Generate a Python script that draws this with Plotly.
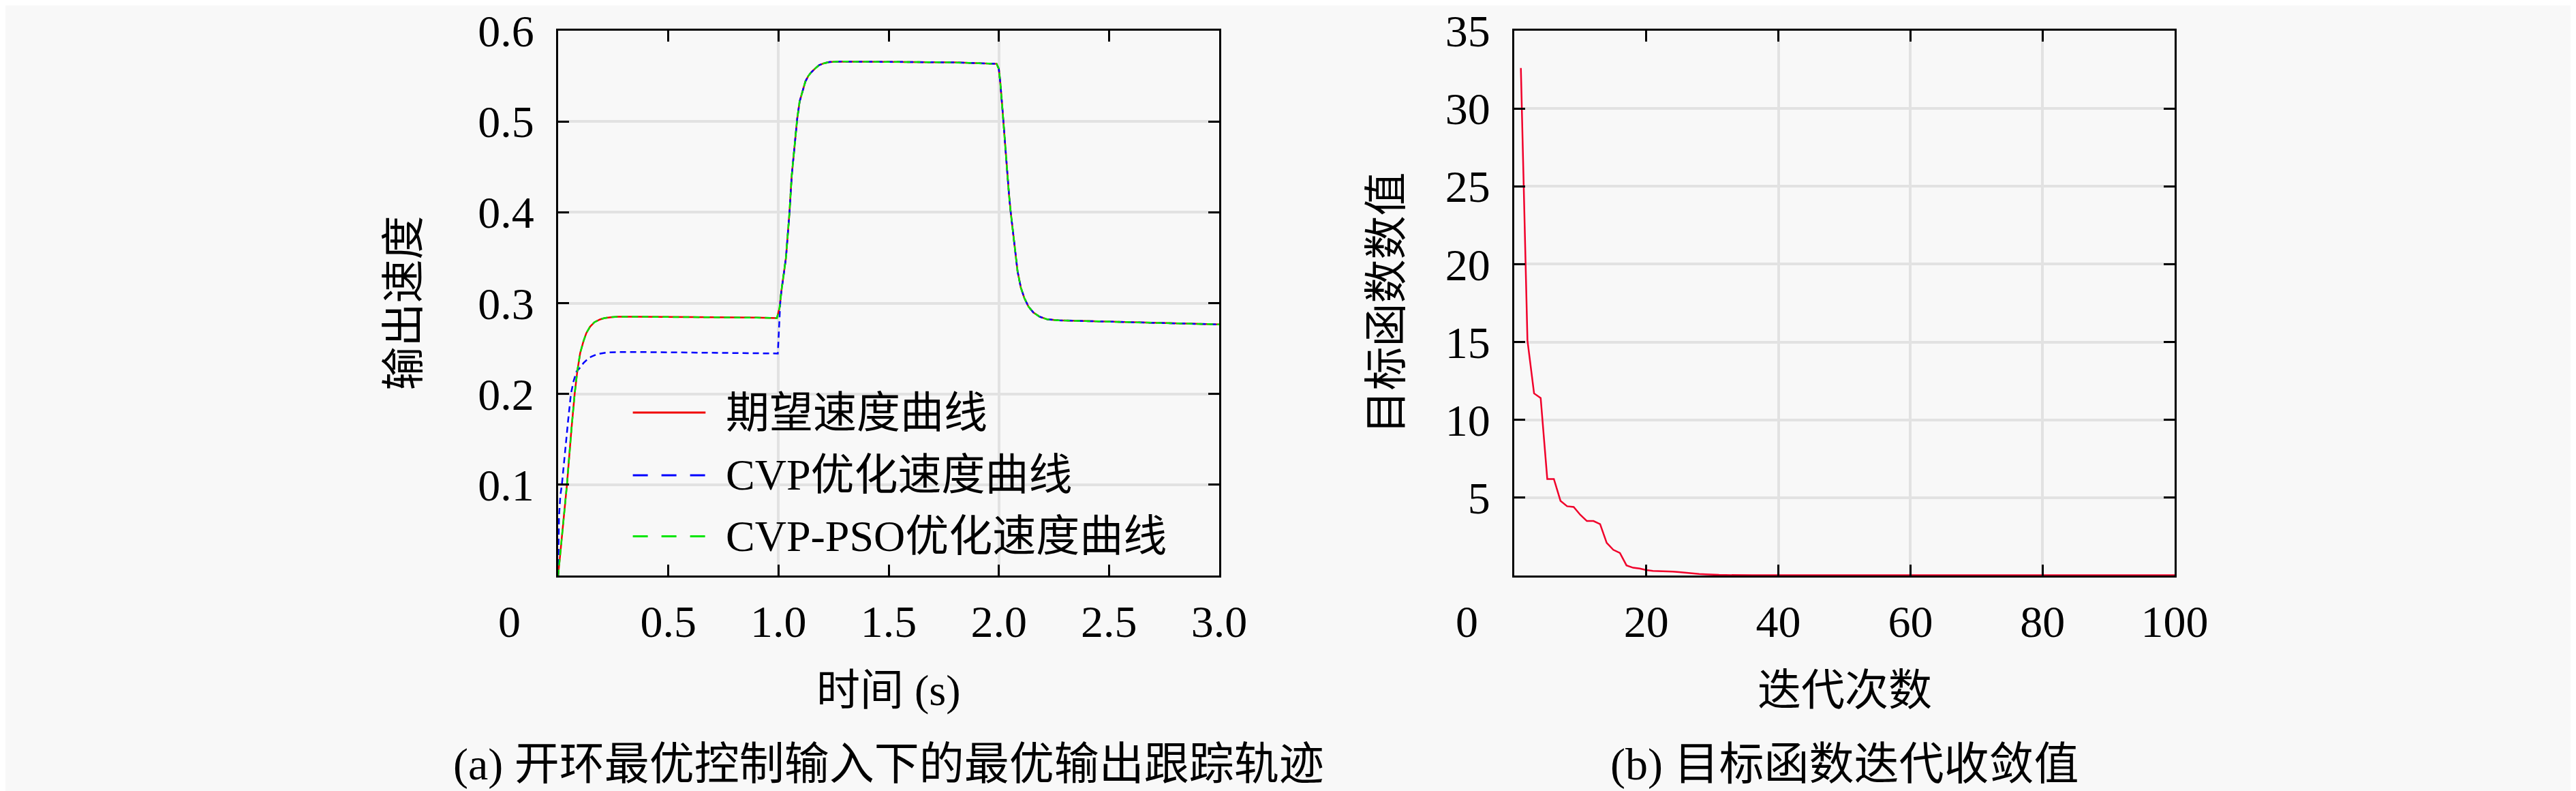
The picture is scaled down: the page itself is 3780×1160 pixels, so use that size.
import plotly.graph_objects as go

# (a) output speed tracking
t_desired = [0, 0.02, 0.04, 0.06, 0.075, 0.087, 0.10, 0.115, 0.128, 0.145, 0.165, 0.19,
             0.21, 0.24, 0.27, 0.35, 0.5, 0.7, 0.9, 0.993, 1.005, 1.013, 1.023, 1.034,
             1.042, 1.05, 1.06, 1.075, 1.085, 1.096, 1.11, 1.122, 1.135, 1.148, 1.165,
             1.184, 1.205, 1.23, 1.28, 1.4, 1.6, 1.8, 1.99, 2.0, 2.007, 2.015, 2.023,
             2.03, 2.038, 2.046, 2.054, 2.062, 2.069, 2.077, 2.085, 2.1, 2.116, 2.135,
             2.157, 2.185, 2.22, 2.27, 2.35, 2.5, 2.7, 2.9, 3.0]
v_desired = [0, 0.05, 0.10, 0.16, 0.20, 0.225, 0.245, 0.258, 0.267, 0.274, 0.279, 0.282,
             0.2835, 0.2845, 0.285, 0.285, 0.2848, 0.2845, 0.284, 0.2835, 0.295, 0.313, 0.33, 0.35,
             0.375, 0.40, 0.44, 0.48, 0.503, 0.522, 0.535, 0.544, 0.55, 0.554, 0.558,
             0.562, 0.564, 0.5655, 0.566, 0.566, 0.5655, 0.565, 0.5635, 0.558, 0.542, 0.518, 0.492,
             0.468, 0.4425, 0.42, 0.40, 0.383, 0.368, 0.351, 0.335, 0.317, 0.3055, 0.296,
             0.2896, 0.285, 0.2821, 0.281, 0.2805, 0.2795, 0.2785, 0.2775, 0.2765]

t_cvp = [0, 0.004, 0.01, 0.017, 0.025, 0.033, 0.045, 0.058, 0.07, 0.084, 0.1, 0.115, 0.128,
         0.15, 0.18, 0.22, 0.26, 0.35, 0.5, 0.7, 0.9, 0.997, 1.008, 1.013, 1.023, 1.034,
         1.042, 1.05, 1.06, 1.075, 1.085, 1.096, 1.11, 1.122, 1.135, 1.148, 1.165,
         1.184, 1.205, 1.23, 1.28, 1.4, 1.6, 1.8, 1.99, 2.0, 2.007, 2.015, 2.023,
         2.03, 2.038, 2.046, 2.054, 2.062, 2.069, 2.077, 2.085, 2.1, 2.116, 2.135,
         2.157, 2.185, 2.22, 2.27, 2.35, 2.5, 2.7, 2.9, 3.0]
v_cvp = [0, 0.065, 0.088, 0.10, 0.12, 0.142, 0.17, 0.20, 0.214, 0.225, 0.229, 0.234, 0.237,
         0.241, 0.244, 0.2455, 0.246, 0.2462, 0.2458, 0.2452, 0.2448, 0.2445, 0.30, 0.313, 0.33, 0.35,
         0.375, 0.40, 0.44, 0.48, 0.503, 0.522, 0.535, 0.544, 0.55, 0.554, 0.558,
         0.562, 0.564, 0.5655, 0.566, 0.566, 0.5655, 0.565, 0.5635, 0.558, 0.542, 0.518, 0.492,
         0.468, 0.4425, 0.42, 0.40, 0.383, 0.368, 0.351, 0.335, 0.317, 0.3055, 0.296,
         0.2896, 0.285, 0.2821, 0.281, 0.2805, 0.2795, 0.2785, 0.2775, 0.2765]

t_pso = t_desired
v_pso = [0, 0.05, 0.10, 0.16, 0.20, 0.225, 0.245, 0.258, 0.267, 0.274, 0.279, 0.282,
         0.2835, 0.2845, 0.285, 0.285, 0.2848, 0.2845, 0.284, 0.2835, 0.295, 0.313, 0.33, 0.35,
         0.375, 0.40, 0.44, 0.48, 0.503, 0.522, 0.535, 0.544, 0.55, 0.554, 0.558,
         0.562, 0.564, 0.5655, 0.566, 0.566, 0.5655, 0.565, 0.5635, 0.558, 0.542, 0.518, 0.492,
         0.468, 0.4425, 0.42, 0.40, 0.383, 0.368, 0.351, 0.335, 0.317, 0.3055, 0.296,
         0.2896, 0.285, 0.2821, 0.281, 0.2805, 0.2795, 0.2785, 0.2775, 0.2765]

series_names = ['期望速度曲线', 'CVP优化速度曲线', 'CVP-PSO优化速度曲线']
series_colors = ['#f00000', '#0000ff', '#00e600']

# (b) objective value per iteration
iterations = list(range(1, 101))
objective = [32.6, 15.1, 11.7, 11.4, 6.2, 6.2, 4.8, 4.45, 4.4, 3.9,
             3.5, 3.5, 3.3, 2.1, 1.65, 1.45, 0.65, 0.5, 0.45, 0.35,
             0.30, 0.29, 0.27, 0.25, 0.22, 0.17, 0.13, 0.10, 0.08, 0.05,
             0.04, 0.03, 0.02, 0.02, 0.02, 0.02, 0.02, 0.02, 0.02, 0.02,
             0.02, 0.02, 0.02, 0.02, 0.02, 0.02, 0.02, 0.02, 0.02, 0.02,
             0.02, 0.02, 0.02, 0.02, 0.02, 0.02, 0.02, 0.02, 0.02, 0.02,
             0.02, 0.02, 0.02, 0.02, 0.02, 0.02, 0.02, 0.02, 0.02, 0.02,
             0.02, 0.02, 0.02, 0.02, 0.02, 0.02, 0.02, 0.02, 0.02, 0.02,
             0.02, 0.02, 0.02, 0.02, 0.02, 0.02, 0.02, 0.02, 0.02, 0.02,
             0.02, 0.02, 0.02, 0.02, 0.02, 0.02, 0.02, 0.02, 0.02, 0.02]

# ticks
a_xticks = [0.5, 1.0, 1.5, 2.0, 2.5, 3.0]
a_xlabels = ['0.5', '1.0', '1.5', '2.0', '2.5', '3.0']
a_yticks = [0.1, 0.2, 0.3, 0.4, 0.5, 0.6]
a_ylabels = ['0.1', '0.2', '0.3', '0.4', '0.5', '0.6']
a_xgrid = [1.0, 2.0]
b_xticks = [20, 40, 60, 80, 100]
b_yticks = [5, 10, 15, 20, 25, 30, 35]
b_xgrid = [40, 60, 80]

FONT = 'Liberation Serif, Noto Sans CJK SC, serif'
BG = '#f8f8f8'
GRID = '#e2e2e2'
W, H = 3780, 1160

fig = go.Figure()

fig.add_trace(go.Scatter(x=t_desired, y=v_desired, mode='lines', name=series_names[0],
                         line=dict(color=series_colors[0], width=2.5), xaxis='x', yaxis='y'))
fig.add_trace(go.Scatter(x=t_cvp, y=v_cvp, mode='lines', name=series_names[1],
                         line=dict(color=series_colors[1], width=2.5, dash='9px,6px'),
                         xaxis='x', yaxis='y'))
fig.add_trace(go.Scatter(x=t_pso, y=v_pso, mode='lines', name=series_names[2],
                         line=dict(color=series_colors[2], width=2.5, dash='9px,6px'),
                         xaxis='x', yaxis='y'))
fig.add_trace(go.Scatter(x=iterations, y=objective, mode='lines', name='目标函数值',
                         line=dict(color='#f0002a', width=2.5), xaxis='x2', yaxis='y2'))

common = dict(
    showline=True, linecolor='black', linewidth=3, mirror='ticks',
    ticks='inside', ticklen=16, tickwidth=2.5, tickcolor='black',
    tickfont=dict(family=FONT, size=66, color='black'),
    ticklabeloverflow='allow', automargin=False,
    zeroline=False, gridcolor=GRID, gridwidth=4,
)

fig.update_layout(
    width=W, height=H,
    margin=dict(l=0, r=0, t=0, b=0),
    paper_bgcolor=BG, plot_bgcolor=BG,
    showlegend=False,
    font=dict(family=FONT, size=64, color='black'),
    xaxis=dict(domain=[811 / W, 1781 / W], range=[0, 3], anchor='y',
               tickvals=a_xticks, ticktext=a_xlabels, showgrid=False,
               ticklabelstandoff=8,
               minor=dict(tickvals=a_xgrid, showgrid=True, gridcolor=GRID, gridwidth=4, ticks=''),
               **common),
    yaxis=dict(domain=[1 - 836 / H, 1 - 37 / H], range=[0, 0.6], anchor='x',
               tickvals=a_yticks, ticktext=a_ylabels, showgrid=True,
               ticklabelstandoff=19, **common),
    xaxis2=dict(domain=[2214 / W, 3183 / W], range=[0, 100], anchor='y2',
                tickvals=b_xticks, showgrid=False, ticklabelstandoff=8,
                minor=dict(tickvals=b_xgrid, showgrid=True, gridcolor=GRID, gridwidth=4, ticks=''),
                **common),
    yaxis2=dict(domain=[1 - 836 / H, 1 - 37 / H], range=[0, 35], anchor='x2',
                tickvals=b_yticks, showgrid=True, ticklabelstandoff=19, **common),
)

# hand-drawn legend inside panel (a)
legend_y = [0.299, 0.184, 0.072]
legend_dash = ['solid', '22px,20px', '22px,20px']
for name, color, ly, dash in zip(series_names, series_colors, legend_y, legend_dash):
    fig.add_shape(type='line', xref='x domain', yref='y domain',
                  x0=0.113, x1=0.223, y0=ly, y1=ly,
                  line=dict(color=color, width=3, dash=dash))
    fig.add_annotation(text=name, xref='x domain', yref='y domain', x=0.2515, y=ly,
                       xanchor='left', yanchor='middle', showarrow=False,
                       font=dict(family=FONT, size=64, color='black'))

texts = [
    # (text, xref, yref, x, y, angle, size)
    ('0', 'x domain', 'y domain', -0.074, -0.084, 0, 66),
    ('时间 (s)', 'x domain', 'y domain', 0.5, -0.211, 0, 64),
    ('输出速度', 'x domain', 'y domain', -0.233, 0.5, -90, 64),
    ('(a) 开环最优控制输入下的最优输出跟踪轨迹', 'x domain', 'y domain', 0.5, -0.347, 0, 66),
    ('0', 'x2 domain', 'y2 domain', -0.072, -0.084, 0, 66),
    ('迭代次数', 'x2 domain', 'y2 domain', 0.5, -0.211, 0, 64),
    ('目标函数数值', 'x2 domain', 'y2 domain', -0.193, 0.5, -90, 64),
    ('(b) 目标函数迭代收敛值', 'x2 domain', 'y2 domain', 0.5, -0.347, 0, 66),
]
for text, xr, yr, x, y, ang, size in texts:
    fig.add_annotation(text=text, xref=xr, yref=yr, x=x, y=y, textangle=ang,
                       xanchor='center', yanchor='middle', showarrow=False,
                       font=dict(family=FONT, size=size, color='black'))

fig.write_html("out.html")
